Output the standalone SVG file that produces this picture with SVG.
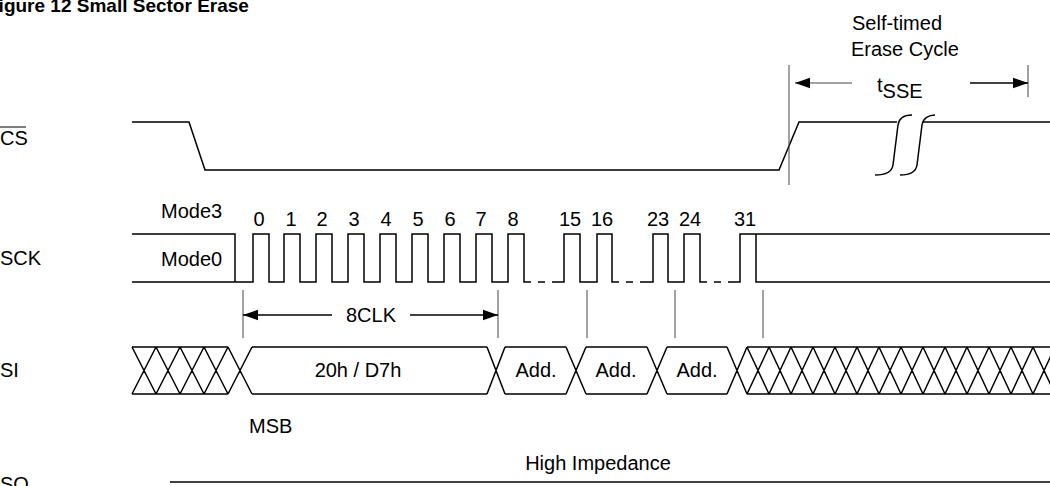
<svg xmlns="http://www.w3.org/2000/svg" width="1050" height="486" viewBox="0 0 1050 486">
<defs>
<style>
text{font-family:"Liberation Sans",Arial,sans-serif;font-size:20px;fill:#000}
.title{font-weight:bold;font-size:19px}
.sig{fill:none;stroke:#000;stroke-width:1.5}
.thin{fill:none;stroke:#444;stroke-width:1}
.mid{text-anchor:middle}
.num{font-size:19px}
</style>
<marker id="ah" viewBox="0 0 10 10" refX="10" refY="5" markerWidth="15" markerHeight="15" markerUnits="userSpaceOnUse" orient="auto"><path d="M0,1.5 L10,5 L0,8.5 Z" fill="#000"/></marker>
</defs>
<text class="title" x="-13" y="12">Figure 12 Small Sector Erase</text>
<g id="labels">
<text x="0" y="145">CS</text><line x1="0" y1="127" x2="26" y2="127" stroke="#000" stroke-width="1"/>
<text x="0" y="265">SCK</text>
<text x="0" y="377">SI</text>
<text x="0" y="491">SO</text>
</g>
<g id="cs">
<polyline class="sig" points="132,122 189,122 205,170 779,170 799,122 897,122"/>
<line class="sig" x1="923" y1="122" x2="1050" y2="122"/>
<path class="sig" stroke-width="1" d="M875,175 C885,175 892,172 893,165 L898,125 C899,118 905,115 912,115"/>
<path class="sig" stroke-width="1" d="M900,175 C910,175 916,172 917,165 L922,125 C923,118 929,115 935,115"/>
</g>
<g id="tsse">
<line class="thin" x1="789" y1="65" x2="789" y2="185"/>
<line class="thin" x1="1028" y1="65" x2="1028" y2="97"/>
<line class="thin" x1="852" y1="83" x2="795" y2="83" marker-end="url(#ah)"/>
<line class="sig" stroke-width="1" x1="970" y1="83" x2="1028" y2="83" marker-end="url(#ah)"/>
<text x="852" y="30">Self-timed</text>
<text x="851" y="56">Erase Cycle</text>
<text x="877" y="92">t<tspan y="98">SSE</tspan></text>
</g>
<g id="sck">
<polyline class="sig" points="132,234 235,234 235,282"/>
<polyline class="sig" points="132,282 253,282 253,234 269,234 269,282 284,282 284,234 300,234 300,282 316,282 316,234 332,234 332,282 348,282 348,234 364,234 364,282 380,282 380,234 396,234 396,282 412,282 412,234 428,234 428,282 444,282 444,234 460,234 460,282 476,282 476,234 492,234 492,282 508,282 508,234 524,234 524,282 531,282"/>
<line class="sig" x1="538" y1="282" x2="545" y2="282"/>
<polyline class="sig" points="552,282 564,282 564,234 580,234 580,282 597,282 597,234 612,234 612,282 619,282"/>
<line class="sig" x1="626" y1="282" x2="633" y2="282"/>
<polyline class="sig" points="640,282 653,282 653,234 668,234 668,282 684,282 684,234 700,234 700,282 707,282"/>
<line class="sig" x1="714" y1="282" x2="721" y2="282"/>
<polyline class="sig" points="728,282 740,282 740,234 1050,234"/>
<polyline class="sig" points="756,234 756,282 1050,282"/>
<text x="161" y="218">Mode3</text>
<text x="161" y="266">Mode0</text>
<g class="mid num">
<text x="259" y="226">0</text><text x="291" y="226">1</text><text x="322" y="226">2</text><text x="354" y="226">3</text><text x="386" y="226">4</text><text x="418" y="226">5</text><text x="450" y="226">6</text><text x="481" y="226">7</text><text x="513" y="226">8</text>
<text x="570" y="226">15</text><text x="602" y="226">16</text><text x="658" y="226">23</text><text x="690" y="226">24</text><text x="745" y="226">31</text>
</g>
</g>
<g id="connectors">
<line class="thin" x1="243" y1="290" x2="243" y2="338"/>
<line class="thin" x1="498" y1="290" x2="498" y2="338"/>
<line class="thin" x1="587" y1="290" x2="587" y2="338"/>
<line class="thin" x1="675" y1="290" x2="675" y2="338"/>
<line class="thin" x1="763" y1="290" x2="763" y2="338"/>
<line class="sig" x1="332" y1="315" x2="243" y2="315" marker-end="url(#ah)"/>
<line class="sig" x1="410" y1="315" x2="498" y2="315" marker-end="url(#ah)"/>
<text class="mid" x="371" y="322">8CLK</text>
</g>
<g id="si">
<path class="sig" stroke-width="1.2" d="M132,347 L228,347 M132,394 L228,394
M132,347 L156,394 M132,394 L156,347 M156,347 L180,394 M156,394 L180,347 M180,347 L204,394 M180,394 L204,347 M204,347 L228,394 M204,394 L228,347
M228,347 L252,394 M228,394 L252,347
M252,347 L487,347 M252,394 L487,394
M487,347 L505,394 M487,394 L505,347
M505,347 L566,347 M505,394 L566,394
M566,347 L586,394 M566,394 L586,347
M586,347 L647,347 M586,394 L647,394
M647,347 L667,394 M647,394 L667,347
M667,347 L727,347 M667,394 L727,394
M727,347 L747,394 M727,394 L747,347
M747,347 L1050,347 M747,394 L1050,394
M747,347 L769,394 M747,394 L769,347 M769,347 L791,394 M769,394 L791,347 M791,347 L813,394 M791,394 L813,347 M813,347 L835,394 M813,394 L835,347 M835,347 L857,394 M835,394 L857,347 M857,347 L879,394 M857,394 L879,347 M879,347 L901,394 M879,394 L901,347 M901,347 L923,394 M901,394 L923,347 M923,347 L945,394 M923,394 L945,347 M945,347 L967,394 M945,394 L967,347 M967,347 L989,394 M967,394 L989,347 M989,347 L1011,394 M989,394 L1011,347 M1011,347 L1033,394 M1011,394 L1033,347 M1033,347 L1055,394 M1033,394 L1055,347"/>
<text class="mid" x="358" y="377">20h / D7h</text>
<text class="mid" x="536" y="377">Add.</text>
<text class="mid" x="616" y="377">Add.</text>
<text class="mid" x="697" y="377">Add.</text>
<text x="249" y="433">MSB</text>
</g>
<g id="so">
<line class="sig" stroke-width="2" x1="170" y1="482" x2="1050" y2="482"/>
<text class="mid" x="598" y="470">High Impedance</text>
</g>
</svg>
